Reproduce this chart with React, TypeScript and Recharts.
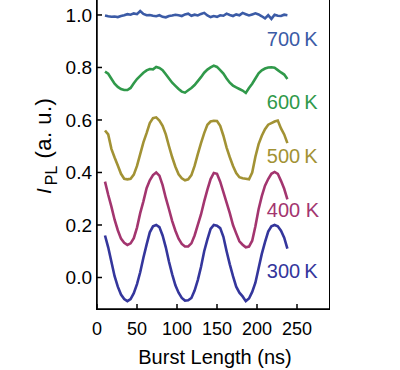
import React from 'react';
import { LineChart, Line, XAxis, YAxis, ReferenceDot } from 'recharts';

const FONT = '"Liberation Sans", Arial, sans-serif';

// burst length (ns), sampled every 4 ns
const burstLength = [
  10, 14, 18, 22, 26, 30, 34, 38, 42, 46,
  50, 54, 58, 62, 66, 70, 74, 78, 82, 86,
  90, 94, 98, 102, 106, 110, 114, 118, 122, 126,
  130, 134, 138, 142, 146, 150, 154, 158, 162, 166,
  170, 174, 178, 182, 186, 190, 194, 198, 202, 206,
  210, 214, 218, 222, 226, 230, 234, 238,
];

const pl300 = [
  0.16, 0.115, 0.06, 0.005, -0.035, -0.065, -0.082, -0.09, -0.082, -0.06,
  -0.025, 0.02, 0.075, 0.125, 0.172, 0.195, 0.2, 0.192, 0.16, 0.115,
  0.06, 0.012, -0.03, -0.058, -0.078, -0.088, -0.087, -0.078, -0.05, -0.01,
  0.04, 0.1, 0.145, 0.185, 0.2, 0.197, 0.188, 0.155, 0.1, 0.05,
  0.005, -0.035, -0.058, -0.072, -0.09, -0.08, -0.055, -0.02, 0.035, 0.09,
  0.135, 0.175, 0.195, 0.2, 0.195, 0.178, 0.152, 0.11,
];

const pl400 = [
  0.365, 0.315, 0.27, 0.22, 0.18, 0.148, 0.132, 0.124, 0.13, 0.15,
  0.19, 0.245, 0.29, 0.34, 0.37, 0.39, 0.4, 0.388, 0.352, 0.303,
  0.26, 0.215, 0.178, 0.148, 0.128, 0.118, 0.118, 0.13, 0.16, 0.2,
  0.24, 0.29, 0.335, 0.375, 0.398, 0.395, 0.365, 0.325, 0.285, 0.245,
  0.2, 0.168, 0.138, 0.125, 0.115, 0.118, 0.14, 0.195, 0.26, 0.31,
  0.35, 0.375, 0.395, 0.402, 0.395, 0.368, 0.338, 0.298,
];

const pl500 = [
  0.56, 0.545, 0.49, 0.457, 0.427, 0.395, 0.376, 0.374, 0.376, 0.392,
  0.425, 0.47, 0.515, 0.55, 0.588, 0.607, 0.61, 0.598, 0.578, 0.545,
  0.5, 0.458, 0.422, 0.393, 0.378, 0.37, 0.374, 0.39, 0.425, 0.47,
  0.512, 0.55, 0.582, 0.594, 0.597, 0.596, 0.578, 0.54, 0.495, 0.458,
  0.425, 0.398, 0.382, 0.378, 0.376, 0.374, 0.4, 0.46, 0.508, 0.54,
  0.565, 0.582, 0.588, 0.594, 0.598, 0.568, 0.545, 0.512,
];

const pl600 = [
  0.784, 0.776, 0.757, 0.738, 0.726, 0.718, 0.714, 0.714, 0.722, 0.74,
  0.756, 0.768, 0.78, 0.789, 0.794, 0.793, 0.802, 0.798, 0.79, 0.774,
  0.758, 0.742, 0.73, 0.718, 0.708, 0.704, 0.713, 0.722, 0.733, 0.748,
  0.763, 0.78, 0.792, 0.8, 0.807, 0.802, 0.79, 0.777, 0.758, 0.742,
  0.731, 0.724, 0.718, 0.712, 0.703, 0.722, 0.738, 0.758, 0.778, 0.789,
  0.796, 0.8, 0.801, 0.799, 0.79, 0.781, 0.773, 0.756,
];

const pl700 = [
  0.998, 0.995, 0.993, 0.994, 0.992, 0.996, 0.999, 1.003, 1.001, 1.006,
  1.003, 1.015, 1.004, 0.999, 1.0, 0.997, 0.995, 0.999, 0.993, 0.991,
  0.996, 0.998, 1.001, 0.999, 0.996, 1.002, 1.005, 0.997, 1.001, 0.998,
  1.004, 1.008, 0.998, 0.992, 0.996, 0.993, 0.999, 0.997, 1.005, 1.0,
  0.996, 1.002, 0.999, 1.008, 1.003, 0.998, 1.002, 1.006, 1.002, 0.995,
  0.987, 0.999, 0.985, 1.001, 0.997, 0.996, 1.001, 0.999,
];

const xTicks = [0, 50, 100, 150, 200, 250];
const yTicks = [0, 0.2, 0.4, 0.6, 0.8, 1.0];
const X_DOMAIN: [number, number] = [0, 290];
const Y_DOMAIN: [number, number] = [-0.12, 1.057];

const series = [
  { key: 'k300', values: pl300, color: '#34369c', label: '300\u2009K', labelY: 0.027 },
  { key: 'k400', values: pl400, color: '#a3356f', label: '400 K', labelY: 0.259 },
  { key: 'k500', values: pl500, color: '#a29234', label: '500\u2009K', labelY: 0.465 },
  { key: 'k600', values: pl600, color: '#30994a', label: '600\u2009K', labelY: 0.67 },
  { key: 'k700', values: pl700, color: '#3b5ba6', label: '700\u2009K', labelY: 0.91 },
];

const chartData = burstLength.map((t, i) => {
  const row: any = { t };
  for (const s of series) row[s.key] = s.values[i];
  return row;
});

const YTitle = () => (
  <text
    transform="translate(51, 194) rotate(-90)"
    fontFamily={FONT}
    fontSize={21}
    fill="#000"
  >
    <tspan fontStyle="italic">I</tspan>
    <tspan fontSize={16} dx={3} dy={6}>PL</tspan>
    <tspan fontSize={22} letterSpacing={0.5} dx={7} dy={-6}>(a. u.)</tspan>
  </text>
);

export default function App() {
  return (
    <div style={{ position: 'absolute', left: 0, top: 0, width: 400, height: 370, background: '#fff' }}>
      <LineChart width={400} height={370} data={chartData} margin={{ top: 0, right: 71, bottom: 31, left: 37 }}>
        <XAxis
          dataKey="t"
          type="number"
          domain={X_DOMAIN}
          ticks={xTicks}
          tickSize={-5}
          tickMargin={18}
          height={30}
          stroke="#000"
          strokeWidth={1.5}
          tick={{ fill: '#000', fontSize: 18, fontFamily: FONT }}
          label={{ value: 'Burst Length (ns)', position: 'insideBottom', offset: -25, dx: 2, fill: '#000', fontSize: 20, fontFamily: FONT }}
        />
        <YAxis
          type="number"
          domain={Y_DOMAIN}
          ticks={yTicks}
          tickSize={-5}
          tickMargin={10}
          width={60}
          stroke="#000"
          strokeWidth={1.5}
          tickFormatter={v => v.toFixed(1)}
          tick={{ fill: '#000', fontSize: 19, fontFamily: FONT }}
          label={{ content: () => <YTitle /> }}
        />
        {series.map(s => (
          <Line
            key={s.key}
            dataKey={s.key}
            stroke={s.color}
            strokeWidth={2.6}
            dot={false}
            isAnimationActive={false}
          />
        ))}
        {series.map(s => (
          <ReferenceDot
            key={`${s.key}_lbl`}
            x={206}
            y={s.labelY}
            r={0}
            fill="none"
            stroke="none"
            label={{ value: s.label, position: 'right', offset: 5, fill: s.color, fontSize: 20, fontFamily: FONT }}
          />
        ))}
      </LineChart>
      {/* plot frame (right edge); left/bottom come from the axes */}
      <div
        style={{
          position: 'absolute',
          left: 96.25,
          top: -1.5,
          width: 233.5,
          height: 311.25,
          border: '1.5px solid #000',
          boxSizing: 'border-box',
          pointerEvents: 'none',
        }}
      />
    </div>
  );
}
